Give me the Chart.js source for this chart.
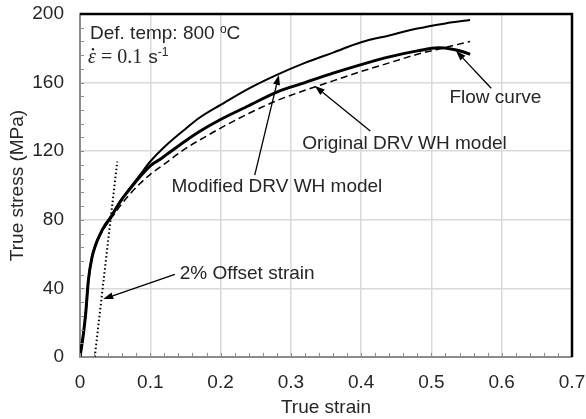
<!DOCTYPE html>
<html>
<head>
<meta charset="utf-8">
<script src="https://cdn.jsdelivr.net/npm/chart.js@4/dist/chart.umd.min.js"></script>
<style>
  html, body { margin: 0; padding: 0; background: #fff; }
  #wrap { width: 586px; height: 419px; }
</style>
</head>
<body>
<div id="wrap"><canvas id="flowChart"></canvas></div>
<script>
// flow curve (experimental)
const flowStrain = [0, 0.005, 0.008, 0.012, 0.017, 0.022, 0.028, 0.035, 0.043, 0.057, 0.07, 0.085, 0.1, 0.107, 0.113, 0.123, 0.15, 0.17, 0.2, 0.24, 0.28, 0.32, 0.36, 0.4, 0.44, 0.48, 0.51, 0.53, 0.545, 0.555];
const flowStress = [0, 14, 25, 45, 58, 65, 71, 76.5, 81, 90.5, 97.5, 105, 111.5, 113.5, 115, 118, 126, 131.5, 138.5, 146.5, 154.5, 160, 165.5, 170.5, 175, 178.5, 180.3, 179.5, 178, 176.5];

// original DRV WH model (dashed)
const origStrain = [0, 0.005, 0.008, 0.012, 0.017, 0.022, 0.03, 0.04, 0.05, 0.057, 0.07, 0.085, 0.1, 0.12, 0.15, 0.185, 0.2, 0.24, 0.28, 0.32, 0.36, 0.4, 0.44, 0.48, 0.52, 0.555];
const origStress = [0, 14, 25, 45, 58, 65, 72, 78.5, 84, 88, 94.5, 101, 106.5, 112.5, 121.5, 130, 133.5, 142, 149.5, 155.5, 161, 166.5, 171.5, 176.5, 180.5, 184];

// modified DRV WH model (thin solid)
const modStrain = [0, 0.005, 0.008, 0.012, 0.017, 0.022, 0.03, 0.043, 0.057, 0.07, 0.085, 0.1, 0.123, 0.15, 0.17, 0.2, 0.24, 0.28, 0.32, 0.36, 0.4, 0.44, 0.48, 0.52, 0.555];
const modStress = [0, 14, 25, 45, 58, 65.5, 72.5, 81.5, 90.5, 98, 106, 114, 123.6, 133, 139.5, 147, 156.5, 164.5, 171.5, 177.5, 183.5, 187.5, 191.5, 194.5, 196.5];

// 2% offset line
const offsetStrain = [0.021, 0.053];
const offsetStress = [0, 114];

const xTicks = [0, 0.1, 0.2, 0.3, 0.4, 0.5, 0.6, 0.7];
const yTicks = [0, 40, 80, 120, 160, 200];

const toPts = (xs, ys) => xs.map((x, i) => ({ x: x, y: ys[i] }));

const FONT = '"Liberation Sans", Arial, sans-serif';
const TXT = '#262626';
const FS = 19;

// labels and arrows, anchored in data units
const labels = [
    { text: 'Flow curve', x: 0.5256, y: 151.4 },
    { text: 'Original DRV WH model', x: 0.3163, y: 124.6 },
    { text: 'Modified DRV WH model', x: 0.1302, y: 99.5 },
    { text: '2% Offset strain', x: 0.142, y: 48.8 }
];
const arrows = [
    { from: [0.585, 156.7], to: [0.535, 178.5] },
    { from: [0.413, 131.8], to: [0.334, 158.0] },
    { from: [0.2486, 106.1], to: [0.283, 164.5] },
    { from: [0.135, 48.2], to: [0.033, 33.8] }
];

function drawArrow(ctx, x1, y1, x2, y2) {
    const ang = Math.atan2(y2 - y1, x2 - x1);
    const len = 10, half = 3.5;
    const bx = x2 - len * Math.cos(ang), by = y2 - len * Math.sin(ang);
    ctx.beginPath();
    ctx.moveTo(x1, y1);
    ctx.lineTo(bx, by);
    ctx.stroke();
    ctx.beginPath();
    ctx.moveTo(x2, y2);
    ctx.lineTo(bx + half * Math.sin(ang), by - half * Math.cos(ang));
    ctx.lineTo(bx - half * Math.sin(ang), by + half * Math.cos(ang));
    ctx.closePath();
    ctx.fill();
}

const decor = {
    id: 'decor',
    afterDraw(chart) {
        const { ctx, scales: { x, y } } = chart;
        const L = x.getPixelForValue(0), R = x.getPixelForValue(0.7);
        const T = y.getPixelForValue(200), B = y.getPixelForValue(0);
        ctx.save();

        // inward minor ticks
        ctx.strokeStyle = '#8c8c8c';
        ctx.lineWidth = 1;
        ctx.beginPath();
        for (let i = 0; i <= 35; i++) {
            const px = Math.round(x.getPixelForValue(i * 0.02)) + 0.5;
            ctx.moveTo(px, B);
            ctx.lineTo(px, B - 4);
        }
        for (let i = 0; i <= 25; i++) {
            const py = Math.round(y.getPixelForValue(i * 8)) + 0.5;
            ctx.moveTo(L, py);
            ctx.lineTo(L + 4, py);
        }
        ctx.stroke();

        // black top and right frame
        ctx.strokeStyle = '#000';
        ctx.lineWidth = 2.5;
        ctx.beginPath();
        ctx.moveTo(L, T);
        ctx.lineTo(R, T);
        ctx.lineTo(R, B);
        ctx.stroke();

        // arrows
        ctx.strokeStyle = '#000';
        ctx.fillStyle = '#000';
        ctx.lineWidth = 1.3;
        arrows.forEach(ar => {
            drawArrow(ctx,
                x.getPixelForValue(ar.from[0]), y.getPixelForValue(ar.from[1]),
                x.getPixelForValue(ar.to[0]), y.getPixelForValue(ar.to[1]));
        });

        // labels
        ctx.fillStyle = TXT;
        ctx.textBaseline = 'middle';
        ctx.textAlign = 'left';
        ctx.font = FS + 'px ' + FONT;
        labels.forEach(l => {
            ctx.fillText(l.text, x.getPixelForValue(l.x), y.getPixelForValue(l.y));
        });

        // Def. temp: 800 oC
        let px = x.getPixelForValue(0.0142);
        let py = y.getPixelForValue(188.2);
        ctx.font = FS + 'px ' + FONT;
        ctx.fillText('Def. temp: 800 ', px, py);
        px += ctx.measureText('Def. temp: 800 ').width;
        ctx.font = '12px ' + FONT;
        ctx.fillText('o', px, py - 5);
        px += ctx.measureText('o').width;
        ctx.font = FS + 'px ' + FONT;
        ctx.fillText('C', px, py);

        // strain rate
        px = x.getPixelForValue(0.0114);
        py = y.getPixelForValue(174.2);
        ctx.font = 'italic 20px "Liberation Serif", serif';
        ctx.fillText('\u03b5', px, py);
        const ew = ctx.measureText('\u03b5').width;
        ctx.beginPath();
        ctx.arc(px + ew / 2 + 1, py - 9, 1.2, 0, Math.PI * 2);
        ctx.fill();
        px += ew + 5;
        ctx.font = '20px "Liberation Serif", serif';
        ctx.fillText('= 0.1', px, py);
        px += ctx.measureText('= 0.1').width + 6;
        ctx.font = FS + 'px ' + FONT;
        ctx.fillText('s', px, py);
        px += ctx.measureText('s').width;
        ctx.font = '12px ' + FONT;
        ctx.fillText('-1', px, py - 6);

        ctx.restore();
    }
};

function noPad(s) {
    s.paddingTop = 0;
    s.paddingBottom = 0;
    s.paddingLeft = 0;
    s.paddingRight = 0;
}

new Chart(document.getElementById('flowChart'), {
    type: 'scatter',
    data: {
        datasets: [
            {
                label: 'Original DRV WH model',
                data: toPts(origStrain, origStress),
                showLine: true,
                borderColor: '#000',
                borderWidth: 1.5,
                borderDash: [7, 4],
                pointRadius: 0,
                cubicInterpolationMode: 'monotone'
            },
            {
                label: 'Modified DRV WH model',
                data: toPts(modStrain, modStress),
                showLine: true,
                borderColor: '#000',
                borderWidth: 2,
                pointRadius: 0,
                cubicInterpolationMode: 'monotone'
            },
            {
                label: 'Flow curve',
                data: toPts(flowStrain, flowStress),
                showLine: true,
                borderColor: '#000',
                borderWidth: 3,
                pointRadius: 0,
                cubicInterpolationMode: 'monotone'
            },
            {
                label: '2% Offset strain',
                data: toPts(offsetStrain, offsetStress),
                showLine: true,
                borderColor: '#000',
                borderWidth: 2,
                borderDash: [1.5, 2.5],
                pointRadius: 0
            }
        ]
    },
    options: {
        responsive: true,
        maintainAspectRatio: false,
        animation: false,
        layout: { padding: { top: 14, right: 14, left: 0, bottom: 0 } },
        plugins: {
            legend: { display: false },
            tooltip: { enabled: false }
        },
        scales: {
            x: {
                type: 'linear',
                min: 0,
                max: 0.7,
                afterFit: s => { s.height = 62; noPad(s); },
                afterBuildTicks: s => { s.ticks = xTicks.map(v => ({ value: v })); },
                grid: { color: '#d9d9d9', lineWidth: 1.5, drawTicks: false },
                border: { color: '#8c8c8c', width: 2 },
                ticks: {
                    padding: 14,
                    color: TXT,
                    font: { family: FONT, size: FS },
                    callback: v => String(+v.toFixed(1))
                },
                title: {
                    display: true,
                    text: 'True strain',
                    color: TXT,
                    font: { family: FONT, size: FS },
                    padding: { top: 2, bottom: 0 }
                }
            },
            y: {
                type: 'linear',
                min: 0,
                max: 200,
                afterFit: s => { s.width = 80; noPad(s); },
                afterBuildTicks: s => { s.ticks = yTicks.map(v => ({ value: v })); },
                grid: { color: '#d9d9d9', lineWidth: 1.5, drawTicks: false },
                border: { color: '#8c8c8c', width: 2 },
                ticks: {
                    padding: 16,
                    color: TXT,
                    font: { family: FONT, size: FS }
                },
                title: {
                    display: true,
                    text: 'True stress (MPa)',
                    color: TXT,
                    font: { family: FONT, size: FS },
                    padding: { top: 6, bottom: 0 }
                }
            }
        }
    },
    plugins: [decor]
});
</script>
</body>
</html>
